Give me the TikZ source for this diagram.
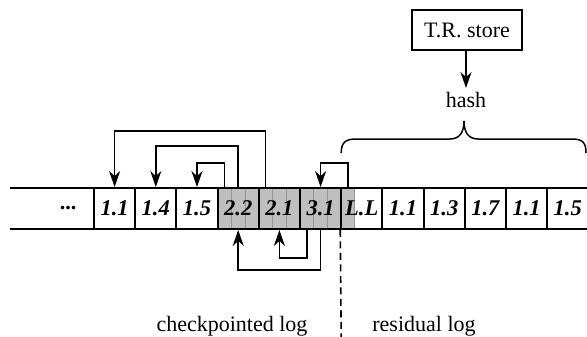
\documentclass[tikz,border=0pt]{standalone}
\usepackage{fontspec}
\setmainfont{Liberation Serif}
\usetikzlibrary{arrows.meta}
\begin{document}
\begin{tikzpicture}[x=1pt,y=-1pt,
  txt/.style={font=\fontsize{22}{24}\selectfont},
  cell/.style={draw,line width=1.9pt,minimum width=41.2pt,minimum height=41pt,inner sep=0pt,
    font=\fontsize{22.5}{24}\selectfont\bfseries\itshape},
  stripe/.style={draw=black!42,line width=0.9pt},
  link/.style={line width=1.6pt,-{Stealth[length=16pt,width=11pt,inset=5pt]}},
  rail/.style={line width=2pt},
  sep/.style={line width=1.6pt,dash pattern=on 7pt off 4.5pt},
  brace/.style={line width=1.5pt}]
\useasboundingbox (0,0) rectangle (587,337);

% gray checkpointed region
\fill[black!25] (217.6,188) rectangle (354.9,229);
\foreach \k in {1,2,4,5,7,8,10}
  \draw[stripe] (217.6+\k*13.73,188) -- ++(0,41);

% rails
\draw[rail] (10,188) -- (587,188);
\draw[rail] (10,229) -- (587,229);

% cells
\foreach \t [count=\i] in {1.1,1.4,1.5,2.2,2.1,3.1,L.L,1.1,1.3,1.7,1.1,1.5}
  \node[cell] (c\i) at (94+41.2*\i-20.6,208.5) {\t};
\node[font=\fontsize{22}{24}\selectfont\bfseries] (dots) at (68,208.5) {...};

% stripe centre coordinates
\foreach \k in {1,...,10}{
  \coordinate (t\k) at (217.6+13.73*\k-6.865,188);
  \coordinate (b\k) at (217.6+13.73*\k-6.865,229);
}

% links above
\draw[link] (t4) -- ++(0,-57) -| (c1.north);
\draw[link] (t2) -- ++(0,-42) -| (c2.north);
\draw[link] (t1) -- ++(0,-25) -| (c3.north);
\draw[link] (t10) -- ++(0,-25) -| (c6.north);
% links below
\draw[link] (b8) -- ++(0,41) -| (c4.south);
\draw[link] (b7) -- ++(0,29) -| (c5.south);

% separator
\coordinate (sepbot) at (341.2,337);
\draw[sep] (c7.south west) -- (sepbot);

% T.R. store and hash
\node[draw,line width=1.8pt,minimum width=110pt,minimum height=40pt,inner sep=0pt,txt] (trs) at (467,30) {T.R. store};
\node[txt,inner sep=0pt] (hash) at (466,100) {hash};
\draw[link,shorten >=4pt] (trs.south -| hash) -- (hash.north);

% brace
\coordinate (bl) at (341.2,153);
\coordinate (br) at (586,153);
\coordinate (bt) at (464,121);
\draw[brace] (bl) .. controls (341.2,143) and (345,139) .. (356,139) -- (450,139)
  .. controls (459,139) and (464,133) .. (bt)
  .. controls (464,133) and (469,139) .. (478,139) -- (572,139)
  .. controls (583,139) and (586,143) .. (br);

% labels
\node[txt,anchor=base] (ckl) at (232,331) {checkpointed log};
\node[txt,anchor=base] (resl) at (424,331) {residual log};
\end{tikzpicture}
\end{document}
